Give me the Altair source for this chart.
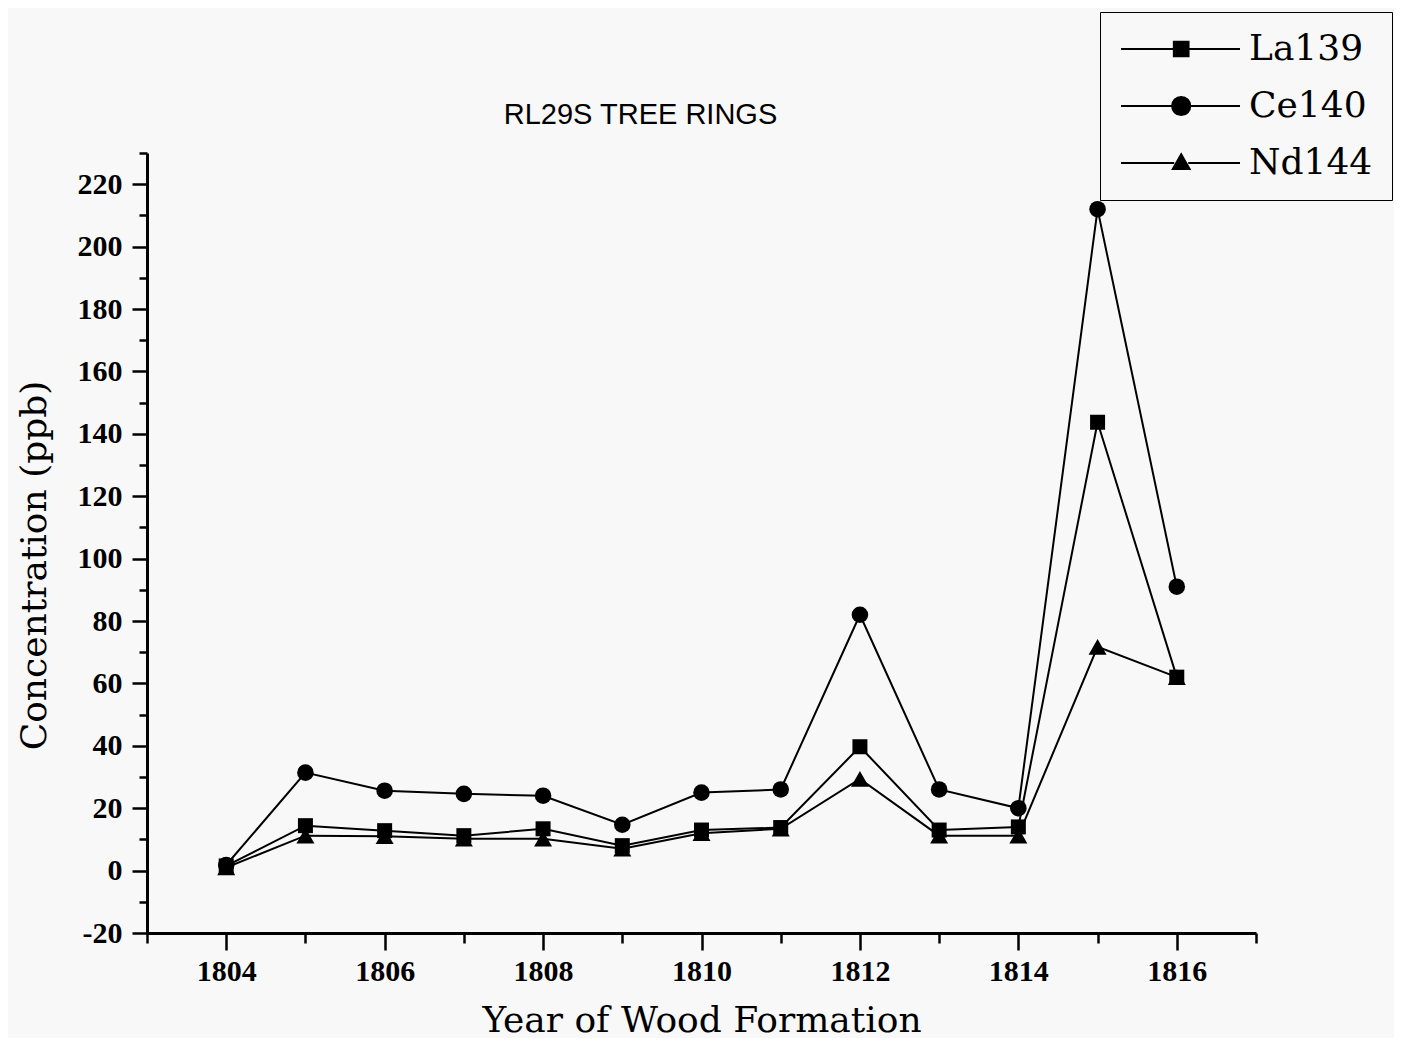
import math
import altair as alt
import pandas as pd

years = list(range(1804, 1817))
la139 = [1.5, 14.4, 12.8, 11.2, 13.4, 8.0, 13.0, 13.8, 39.7, 13.0, 14.0, 143.7, 62.0]
ce140 = [1.8, 31.4, 25.6, 24.6, 24.0, 14.7, 25.0, 26.0, 82.0, 26.0, 20.0, 212.0, 91.0]
nd144 = [1.0, 11.2, 11.0, 10.2, 10.2, 7.0, 12.0, 13.4, 29.4, 11.2, 11.2, 71.7, 62.0]
series_names = ["La139", "Ce140", "Nd144"]
x_ticks = list(range(1803, 1818))
y_ticks = list(range(-20, 231, 10))

rows = []
for name, vals in zip(series_names, [la139, ce140, nd144]):
    for yr, v in zip(years, vals):
        rows.append({"year": yr, "value": v, "series": name})
df = pd.DataFrame(rows)


# ---- legend glyphs: line - filled marker - line, as stroked SVG paths ----
def seg(x1, x2, y):
    return f"M{x1:.3f},{y:.3f}H{x2:.3f}"


def steps(a, b, step=0.18):
    out = []
    v = a
    while v <= b + 1e-9:
        out.append(v)
        v += step
    return out


CX = 7.6


def square_glyph(h=1.05):
    p = seg(-1, CX - h, 0) + seg(CX + h, 16, 0)
    p += f"M{CX-h:.3f},{-h:.3f}H{CX+h:.3f}V{h:.3f}H{CX-h:.3f}Z"
    for y in steps(-h, h):
        p += seg(CX - h, CX + h, y)
    return p


def circle_glyph(r=1.3):
    p = seg(-1, CX - r, 0) + seg(CX + r, 16, 0)
    p += f"M{CX-r:.3f},0A{r},{r},0,1,0,{CX+r:.3f},0A{r},{r},0,1,0,{CX-r:.3f},0Z"
    for y in steps(-r + 0.1, r - 0.1):
        hw = math.sqrt(max(r * r - y * y, 0))
        p += seg(CX - hw, CX + hw, y)
    return p


def triangle_glyph(top=-1.25, base=0.85, hb=1.2):
    p = seg(-1, CX - 1.0, 0) + seg(CX + 1.0, 16, 0)
    p += f"M{CX-hb:.3f},{base:.3f}L{CX:.3f},{top:.3f}L{CX+hb:.3f},{base:.3f}Z"
    for y in steps(top + 0.15, base):
        hw = hb * (y - top) / (base - top)
        p += seg(CX - hw, CX + hw, y)
    return p


legend_paths = [square_glyph(), circle_glyph(), triangle_glyph()]

x_enc = alt.X(
    "year:Q",
    scale=alt.Scale(domain=[1803, 1817], nice=False, zero=False),
    axis=alt.Axis(
        values=x_ticks,
        format="d",
        labelExpr="datum.value % 2 === 0 ? datum.label : ''",
        tickSize={"condition": {"test": "datum.value % 2 === 0", "value": 17}, "value": 10},
        labelPadding=6,
        titlePadding=17,
    ),
    title="Year of Wood Formation",
)
y_enc = alt.Y(
    "value:Q",
    scale=alt.Scale(domain=[-20, 230], nice=False, zero=False),
    axis=alt.Axis(
        values=y_ticks,
        labelExpr="datum.value % 20 === 0 ? '' + datum.value : ''",
        tickSize={"condition": {"test": "datum.value % 20 === 0", "value": 15}, "value": 8},
        labelPadding=10,
        titlePadding=24,
        titleY=412,
    ),
    title="Concentration (ppb)",
)

base = alt.Chart(df)

lines = base.mark_line(color="black", strokeWidth=2).encode(
    x=x_enc, y=y_enc, detail="series:N"
)

points = base.mark_point(filled=True, color="black", opacity=1).encode(
    x=x_enc,
    y=y_enc,
    shape=alt.Shape(
        "series:N",
        scale=alt.Scale(domain=series_names, range=["square", "circle", "triangle-up"]),
        legend=None,
    ),
    size=alt.Size(
        "series:N",
        scale=alt.Scale(domain=series_names, range=[225, 324, 300]),
        legend=None,
    ),
)

legend_layer = base.transform_filter("false").mark_point(
    filled=False, color="black", strokeWidth=2
).encode(
    x=x_enc,
    y=y_enc,
    shape=alt.Shape(
        "series:N",
        scale=alt.Scale(domain=series_names, range=legend_paths),
        legend=alt.Legend(
            title=None,
            orient="none",
            legendX=953,
            legendY=-141,
            direction="vertical",
            symbolSize=196,
            symbolStrokeWidth=2,
            symbolOpacity=1,
            symbolOffset=-9,
            labelFont="DejaVu Serif",
            labelFontSize=36,
            labelColor="black",
            labelOffset=103,
            labelLimit=400,
            padding=19,
            rowPadding=21,
            strokeColor="black",
            fillColor="#f7f8f7",
        ),
    ),
)

chart = (
    alt.layer(lines, points, legend_layer)
    .resolve_scale(shape="independent")
    .properties(
        width=1109,
        height=780,
        padding={"left": 139, "top": 145, "right": 138, "bottom": 105},
        autosize=alt.AutoSizeParams(type="none"),
        background="#f7f8f7",
        title=alt.TitleParams(
            "RL29S TREE RINGS",
            font="Liberation Sans",
            fontSize=29,
            fontWeight="normal",
            color="black",
            anchor="middle",
            baseline="alphabetic",
            dx=-61,
            offset=-141,
        ),
    )
    .configure_view(stroke=None)
    .configure_axis(
        grid=False,
        domainColor="black",
        domainWidth=3,
        tickColor="black",
        tickWidth=2.5,
        labelFont="Liberation Serif",
        labelFontWeight="bold",
        labelFontSize=30,
        labelColor="black",
        titleFont="DejaVu Serif",
        titleFontSize=36,
        titleFontWeight="normal",
        titleColor="black",
    )
)

chart.save("out.html", embed_options={"renderer": "svg", "actions": False})
